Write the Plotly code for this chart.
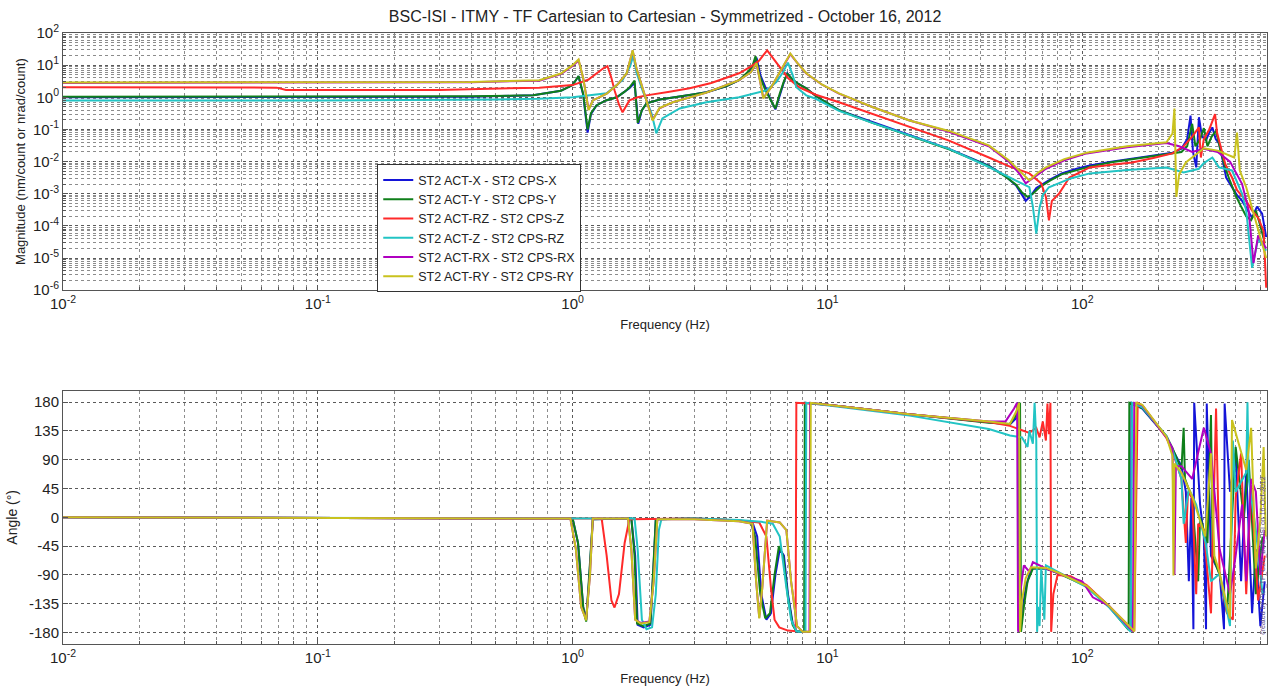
import plotly.graph_objects as go

TITLE = "BSC-ISI - ITMY - TF Cartesian to Cartesian - Symmetrized - October 16, 2012"
NAMES = ["ST2 ACT-X - ST2 CPS-X", "ST2 ACT-Y - ST2 CPS-Y", "ST2 ACT-RZ - ST2 CPS-Z",
         "ST2 ACT-Z - ST2 CPS-RZ", "ST2 ACT-RX - ST2 CPS-RX", "ST2 ACT-RY - ST2 CPS-RY"]
COLORS = ["#1414d8", "#0f7f1a", "#ff2a2a", "#22c4c4", "#b000c0", "#c9c21e"]

FREQ_TICKS = [0.01, 0.1, 1, 10, 100]
FREQ_TICK_EXP = [-2, -1, 0, 1, 2]
MAG_TICKS = [1e-6, 1e-5, 1e-4, 1e-3, 1e-2, 1e-1, 1, 10, 100]
MAG_TICK_EXP = [-6, -5, -4, -3, -2, -1, 0, 1, 2]
PHASE_TICKS = [-180, -135, -90, -45, 0, 45, 90, 135, 180]

# ---------------- magnitude (frequency Hz, value) ----------------
blue_mag_f = [0.01, 0.1, 0.4, 0.7, 0.9, 1.0, 1.055, 1.1, 1.145, 1.18, 1.24, 1.35, 1.49, 1.6, 1.67, 1.75, 1.79, 1.81, 1.87, 1.95, 2.2, 2.47, 3.0, 3.35, 4.0, 4.5, 4.9, 5.08, 5.27, 5.45, 5.76, 6.0, 6.25, 6.5, 6.75, 6.96, 7.3, 7.7, 8.26, 9.0, 11.1, 15, 21, 30, 43, 50, 55, 58, 60, 63, 66, 75, 83, 95, 107, 130, 157, 190, 226, 245, 258, 266, 272, 280, 287, 295, 306, 315, 324, 334, 344, 355, 367, 387, 405, 424, 445, 464, 485, 508, 527]
blue_mag_v = [1.0, 1.0, 1.05, 1.15, 1.6, 2.4, 4.5, 1.2, 0.08, 0.3, 0.56, 0.8, 1.0, 1.5, 1.9, 2.8, 0.5, 0.15, 0.4, 0.65, 0.85, 1.0, 1.25, 1.43, 2.2, 3.4, 6.0, 8.6, 17, 5, 1.65, 0.8, 0.42, 1.2, 3.0, 5.6, 3.5, 2.6, 1.9, 1.1, 0.4, 0.17, 0.066, 0.025, 0.0075, 0.0035, 0.0018, 0.0009, 0.0006, 0.0009, 0.0015, 0.0028, 0.0043, 0.006, 0.0076, 0.01, 0.0125, 0.016, 0.019, 0.025, 0.05, 0.27, 0.02, 0.0066, 0.24, 0.06, 0.046, 0.08, 0.116, 0.05, 0.037, 0.012, 0.0032, 0.0016, 0.0009, 0.0006, 0.0003, 0.00018, 0.0004, 0.00024, 0.000045]

green_mag_f = [0.01, 0.1, 0.4, 0.7, 0.9, 1.0, 1.055, 1.1, 1.145, 1.18, 1.24, 1.35, 1.49, 1.6, 1.67, 1.75, 1.78, 1.8, 1.87, 1.95, 2.2, 2.47, 3.0, 3.35, 4.0, 4.5, 4.9, 5.08, 5.22, 5.4, 5.7, 6.0, 6.25, 6.5, 6.75, 6.96, 7.3, 7.7, 8.26, 9.0, 11.1, 15, 21, 30, 43, 50, 55, 58, 61, 64, 68, 75, 83, 95, 107, 130, 157, 190, 226, 245, 258, 270, 278, 290, 300, 310, 322, 335, 350, 365, 380, 400, 420, 440, 460, 480, 500, 520]
green_mag_v = [1.05, 1.05, 1.08, 1.15, 1.6, 2.4, 4.6, 1.3, 0.1, 0.32, 0.56, 0.8, 1.0, 1.5, 2.0, 3.3, 0.6, 0.16, 0.4, 0.65, 0.85, 1.0, 1.25, 1.43, 2.2, 3.4, 6.5, 9.5, 19, 5, 1.7, 0.8, 0.45, 1.3, 3.2, 5.4, 3.6, 2.6, 1.9, 1.1, 0.4, 0.16, 0.064, 0.024, 0.0072, 0.0034, 0.0019, 0.0011, 0.0008, 0.001, 0.0016, 0.0026, 0.004, 0.0055, 0.007, 0.0095, 0.012, 0.015, 0.018, 0.02, 0.03, 0.15, 0.03, 0.05, 0.11, 0.03, 0.06, 0.09, 0.02, 0.006, 0.0025, 0.0009, 0.0004, 0.0002, 0.00015, 0.0003, 0.0001, 0.00003]

red_mag_f = [0.01, 0.05, 0.069, 0.075, 0.3, 0.74, 1.0, 1.15, 1.24, 1.32, 1.37, 1.42, 1.46, 1.52, 1.57, 1.62, 1.67, 1.8, 1.95, 2.4, 2.88, 3.5, 4.5, 5.0, 5.4, 5.8, 6.1, 6.47, 7.0, 7.75, 9.0, 11.1, 15, 21, 30, 43, 52, 62, 69, 72, 74, 76, 81, 89, 107, 130, 157, 190, 226, 250, 270, 287, 292, 300, 315, 332, 338, 344, 365, 387, 405, 440, 464, 490, 515, 527]
red_mag_v = [2.05, 2.05, 2.0, 1.7, 1.7, 2.0, 2.4, 3.5, 5.6, 8, 9.3, 4, 1.65, 0.6, 0.34, 0.5, 0.8, 1.0, 1.15, 1.5, 1.9, 2.8, 5.6, 9, 14, 29, 17, 8.6, 4, 2.05, 1.2, 0.7, 0.3, 0.116, 0.045, 0.0134, 0.007, 0.0043, 0.0021, 0.0008, 0.00015, 0.0006, 0.001, 0.0032, 0.0066, 0.008, 0.0094, 0.013, 0.018, 0.03, 0.06, 0.116, 0.0134, 0.05, 0.1, 0.3, 0.08, 0.046, 0.008, 0.0032, 0.0013, 0.0006, 0.0003, 0.00018, 0.00007, 0.0000012]

cyan_mag_f = [0.01, 0.1, 0.5, 0.74, 1.0, 1.36, 1.57, 1.68, 1.73, 1.78, 1.88, 2.04, 2.13, 2.2, 2.25, 2.63, 3.35, 4.5, 5.76, 6.3, 6.65, 7.0, 7.3, 7.55, 8.26, 9.0, 11.1, 15, 21, 30, 43, 55, 62, 64, 66, 68, 70, 74, 90, 107, 150, 214, 250, 287, 300, 324, 344, 387, 424, 440, 464, 490, 527]
cyan_mag_v = [0.8, 0.8, 0.85, 0.9, 1.0, 1.33, 3.4, 9, 20, 6, 1.65, 0.32, 0.076, 0.15, 0.22, 0.45, 0.7, 1.0, 1.65, 3, 5.6, 12, 5, 2.05, 1.15, 0.9, 0.38, 0.16, 0.066, 0.025, 0.0068, 0.0025, 0.0016, 0.0004, 0.000058, 0.00037, 0.0009, 0.0016, 0.003, 0.0043, 0.0055, 0.0066, 0.0046, 0.006, 0.009, 0.0134, 0.0066, 0.0053, 0.001, 0.0003, 0.000005, 0.00004, 0.000017]

magenta_mag_f = [0.01, 0.1, 0.4, 0.74, 0.9, 1.0, 1.055, 1.1, 1.155, 1.2, 1.36, 1.5, 1.63, 1.72, 1.78, 1.9, 2.06, 2.19, 2.47, 3.35, 4.5, 5.0, 5.27, 5.45, 5.6, 6.0, 6.47, 7.15, 7.6, 8.26, 9.5, 11.1, 15, 21, 30, 43, 51.5, 57, 60, 64, 72, 85, 104, 150, 214, 240, 270, 300, 340, 380, 424, 450, 470, 490, 527]
magenta_mag_v = [2.8, 2.8, 2.95, 3.3, 5.3, 9.5, 14, 4, 0.42, 0.8, 1.3, 2.5, 5.5, 28, 8, 1.5, 0.2, 0.45, 0.7, 1.4, 3.4, 6, 11, 3, 0.95, 2, 5.5, 22, 12, 5.5, 2.5, 1.3, 0.5, 0.19, 0.085, 0.03, 0.01, 0.004, 0.0021, 0.003, 0.006, 0.011, 0.018, 0.028, 0.038, 0.03, 0.02, 0.025, 0.02, 0.01, 0.002, 0.0003, 0.000007, 0.00005, 0.00002]

yellow_mag_f = [0.01, 0.1, 0.4, 0.74, 0.9, 1.0, 1.055, 1.1, 1.155, 1.2, 1.36, 1.5, 1.63, 1.72, 1.78, 1.9, 2.06, 2.19, 2.47, 3.35, 4.5, 5.0, 5.27, 5.45, 5.6, 6.0, 6.47, 7.15, 7.6, 8.26, 9.5, 11.1, 15, 21, 30, 43, 51.5, 57, 62, 67, 72, 85, 104, 150, 214, 226, 230, 234, 240, 255, 300, 340, 360, 395, 405, 415, 440, 490, 527]
yellow_mag_v = [2.9, 2.9, 3.0, 3.4, 5.5, 10, 15, 4, 0.4, 0.8, 1.3, 2.5, 5.6, 29, 8, 1.5, 0.19, 0.46, 0.7, 1.4, 3.4, 6, 11.5, 3, 0.93, 2, 5.6, 23, 12, 5.6, 2.5, 1.33, 0.5, 0.19, 0.09, 0.032, 0.011, 0.005, 0.0026, 0.0045, 0.0066, 0.012, 0.019, 0.03, 0.04, 0.075, 0.45, 0.0008, 0.004, 0.0094, 0.026, 0.022, 0.018, 0.0134, 0.08, 0.0053, 0.0016, 0.00007, 0.00001]

# ---------------- phase (frequency Hz, degrees) ----------------
blue_ph_f = [0.01, 1.0, 1.05, 1.1, 1.13, 1.16, 1.2, 1.7, 1.76, 1.8, 1.9, 2.02, 2.07, 2.12, 3, 4.5, 5.08, 5.3, 5.5, 5.76, 6.0, 6.25, 6.5, 6.75, 7.0, 7.3, 7.55, 8.15, 8.2, 10, 21, 43, 52, 55, 56, 56.5, 58, 60, 63, 72, 81, 104, 127, 150, 155, 156, 172, 214, 226, 245, 255, 262, 268, 273, 275, 290, 300, 306, 308, 320, 346, 360, 362, 380, 400, 420, 440, 464, 480, 500, 520]
blue_ph_v = [0, -2, -40, -140, -161, -100, -3, -2, -60, -168, -172, -168, -90, -3, -2, -5, -8, -30, -120, -160, -150, -90, -50, -60, -120, -165, -178, -179, 179, 176, 161, 148, 145, 155, 179, -179, -150, -110, -80, -80, -87, -107, -138, -170, -178, 179, 170, 126, 106, 80, 40, -100, 30, -175, 179, 20, -30, -175, 178, -60, -87, -175, 178, 40, 100, -100, 74, -150, -50, -170, -100]

green_ph_f = [0.01, 1.0, 1.05, 1.1, 1.13, 1.16, 1.2, 1.7, 1.75, 1.79, 1.9, 2.02, 2.07, 2.12, 3, 4.5, 5.0, 5.2, 5.45, 5.7, 5.95, 6.2, 6.45, 6.7, 7.0, 7.3, 7.55, 8.1, 8.15, 10, 21, 43, 52, 55, 57, 57.5, 59, 61, 64, 72, 81, 104, 127, 152, 153, 172, 214, 226, 245, 250, 253, 270, 285, 290, 310, 320, 325, 346, 370, 380, 400, 430, 450, 480, 510]
green_ph_v = [0, -2, -40, -140, -163, -100, -3, -2, -60, -166, -170, -166, -90, -3, -2, -5, -8, -30, -120, -158, -150, -90, -45, -60, -125, -168, -178, -179, 179, 176, 161, 148, 146, 160, 179, -179, -140, -100, -80, -80, -88, -108, -139, -176, 179, 171, 127, 108, 75, 140, 60, 30, -100, 0, -40, 160, -60, -90, -150, -60, 110, 0, 90, -120, -30]

red_ph_f = [0.01, 1.3, 1.36, 1.42, 1.46, 1.52, 1.6, 1.67, 3, 4.5, 5.4, 5.76, 6.0, 6.2, 6.47, 7.0, 7.5, 7.55, 10, 21, 43, 52, 62, 66, 68, 70, 72, 73, 74, 75, 75.5, 77, 80, 90, 104, 127, 160, 165, 172, 214, 226, 245, 255, 260, 270, 280, 285, 300, 320, 335, 346, 370, 390, 400, 420, 440, 460, 490, 520]
red_ph_v = [0, -2, -60, -130, -141, -120, -40, -3, -2, -5, -8, -30, -110, -160, -172, -177, -178, 179, 176, 161, 149, 143, 132, 140, 125, 150, 120, 178, 130, 179, -179, -120, -90, -92, -106, -138, -178, 179, 175, 124, 103, 60, -40, 40, 30, -120, -10, -20, -150, 170, -90, -150, -160, 30, 100, -120, 50, -130, -60]

cyan_ph_f = [0.01, 1.75, 1.8, 1.87, 1.95, 2.05, 2.12, 2.18, 2.23, 3, 4.5, 5.5, 6.1, 6.5, 6.9, 7.2, 7.55, 8.2, 8.26, 10, 21, 43, 52, 58, 61, 62, 64, 65, 66, 66.5, 67, 68, 69, 71, 72, 76, 90, 104, 127, 155, 157, 172, 214, 226, 245, 250, 262, 280, 305, 320, 346, 380, 390, 400, 440, 445, 450, 480, 510]
cyan_ph_v = [0, -2, -50, -160, -175, -172, -120, -20, -3, -2, -4, -7, -10, -30, -110, -160, -178, -179, 179, 175, 159, 138, 128, 125, 110, 135, 115, 179, 120, -179, -140, -170, -80, -160, -75, -80, -95, -109, -140, -179, 179, 172, 127, 106, 60, -10, 45, 20, -40, -100, -88, -170, 120, 40, 70, 180, 60, -20, -120]

magenta_ph_f = [0.01, 0.98, 1.03, 1.08, 1.13, 1.17, 1.2, 1.65, 1.7, 1.76, 1.85, 2.0, 2.08, 2.15, 3, 4.5, 5.08, 5.25, 5.4, 5.55, 5.8, 6.5, 6.9, 7.2, 7.6, 8.0, 8.5, 8.55, 10, 21, 43, 50, 54, 55.5, 56, 57, 59, 62, 64, 72, 81, 100, 110, 127, 158, 160, 172, 214, 226, 230, 233, 245, 270, 300, 320, 346, 380, 400, 424, 440, 460, 480, 500, 520]
magenta_ph_v = [0, -2, -50, -140, -160, -90, -2, -2, -50, -160, -165, -163, -100, -3, -3, -6, -10, -100, -157, -110, -5, -8, -20, -100, -170, -179, -179, 179, 176, 161, 150, 150, 170, 179, -179, -120, -75, -85, -70, -80, -88, -100, -125, -138, -178, 179, 175, 125, 108, -90, 80, 80, 60, 140, 100, -50, -120, -60, 20, -100, 60, 40, -90, -20]

yellow_ph_f = [0.01, 0.98, 1.03, 1.08, 1.13, 1.17, 1.2, 1.65, 1.7, 1.76, 1.85, 2.0, 2.08, 2.15, 3, 4.5, 5.08, 5.25, 5.4, 5.55, 5.8, 6.5, 6.9, 7.2, 7.6, 8.0, 8.55, 8.6, 10, 21, 43, 52, 55, 56.5, 57, 58, 60, 63, 72, 81, 104, 127, 160, 163, 172, 214, 226, 228, 230, 245, 270, 304, 320, 330, 346, 380, 387, 440, 460, 480, 500, 515, 525]
yellow_ph_v = [0, -2, -50, -140, -161, -90, -2, -2, -50, -160, -166, -164, -100, -3, -3, -6, -10, -100, -158, -110, -5, -8, -20, -100, -170, -179, -179, 179, 176, 161, 150, 146, 165, 179, -179, -130, -95, -78, -79, -87, -107, -138, -178, 179, 176, 126, 96, -91, 84, 70, 33, -30, 100, -60, -87, -158, 152, 74, 140, -80, -3, 110, -30]

MAG = [(blue_mag_f, blue_mag_v), (green_mag_f, green_mag_v), (red_mag_f, red_mag_v),
       (cyan_mag_f, cyan_mag_v), (magenta_mag_f, magenta_mag_v), (yellow_mag_f, yellow_mag_v)]
PH = [(blue_ph_f, blue_ph_v), (green_ph_f, green_ph_v), (red_ph_f, red_ph_v),
      (cyan_ph_f, cyan_ph_v), (magenta_ph_f, magenta_ph_v), (yellow_ph_f, yellow_ph_v)]

FONT = "Arial, Liberation Sans, sans-serif"
fig = go.Figure()
for i in range(6):
    f, v = MAG[i]
    fig.add_trace(go.Scatter(x=f, y=v, mode="lines", name=NAMES[i],
                             line=dict(color=COLORS[i], width=2),
                             xaxis="x", yaxis="y", showlegend=True))
for i in range(6):
    f, v = PH[i]
    fig.add_trace(go.Scatter(x=f, y=v, mode="lines", name=NAMES[i],
                             line=dict(color=COLORS[i], width=2),
                             xaxis="x2", yaxis="y2", showlegend=False))


def pow_labels(exps):
    return ["10<sup>%d</sup>" % e for e in exps]


grid_major = "#5a5a5a"
grid_minor = "#8c8c8c"
tick_font = dict(size=15, color="#222", family=FONT)
minor_log = dict(dtick="D1", showgrid=True, gridcolor=grid_minor, griddash="dot",
                 ticks="inside", ticklen=3, tickcolor="#555")
xcommon = dict(type="log", range=[-2, 2.725], tickmode="array",
               tickvals=FREQ_TICKS, ticktext=pow_labels(FREQ_TICK_EXP),
               showgrid=True, gridcolor=grid_major, griddash="dot", gridwidth=1,
               minor=minor_log,
               ticks="inside", ticklen=5, tickcolor="#555",
               showline=True, linecolor="#555", linewidth=1, mirror=True,
               zeroline=False, tickfont=tick_font,
               title=dict(text="Frequency (Hz)", font=dict(size=13, color="#222", family=FONT), standoff=8))

fig.update_layout(
    width=1279, height=694,
    paper_bgcolor="white", plot_bgcolor="white",
    margin=dict(l=63, r=11, t=33, b=46),
    title=dict(text=TITLE, x=0.52, xanchor="center", y=0.985, yanchor="top",
               font=dict(size=16, color="#222", family=FONT)),
    xaxis=dict(domain=[0, 1], anchor="y", **xcommon),
    yaxis=dict(domain=[0.579, 1.0], anchor="x", type="log", range=[-6, 2],
               tickmode="array", tickvals=MAG_TICKS, ticktext=pow_labels(MAG_TICK_EXP),
               showgrid=True, gridcolor=grid_major, griddash="dot",
               minor=minor_log,
               ticks="inside", ticklen=5, tickcolor="#555",
               showline=True, linecolor="#555", linewidth=1, mirror=True, zeroline=False,
               tickfont=tick_font,
               title=dict(text="Magnitude (nm/count or nrad/count)",
                          font=dict(size=13, color="#222", family=FONT), standoff=4)),
    xaxis2=dict(domain=[0, 1], anchor="y2", **xcommon),
    yaxis2=dict(domain=[0.0, 0.4146], anchor="x2", range=[-198, 198],
                tickvals=PHASE_TICKS, ticktext=[str(t) for t in PHASE_TICKS],
                showgrid=True, gridcolor=grid_major, griddash="dot",
                ticks="inside", ticklen=5, tickcolor="#555",
                showline=True, linecolor="#555", linewidth=1, mirror=True, zeroline=False,
                tickfont=tick_font,
                title=dict(text="Angle (°)", font=dict(size=14, color="#222", family=FONT), standoff=8)),
    legend=dict(x=0.261, y=0.785, xanchor="left", yanchor="top",
                bgcolor="white", bordercolor="#333", borderwidth=1,
                font=dict(size=12.5, color="#222", family=FONT),
                tracegroupgap=0, itemwidth=30),
    showlegend=True,
)

fig.add_annotation(text="created by Plot_TF_C2C_BSC_ISI on 16-Oct-2012",
                   xref="paper", yref="paper", x=0.997, y=0.145, textangle=-90,
                   showarrow=False, font=dict(size=7, color="#5a4a8a", family=FONT),
                   xanchor="center", yanchor="middle")

fig.write_html("out.html")
